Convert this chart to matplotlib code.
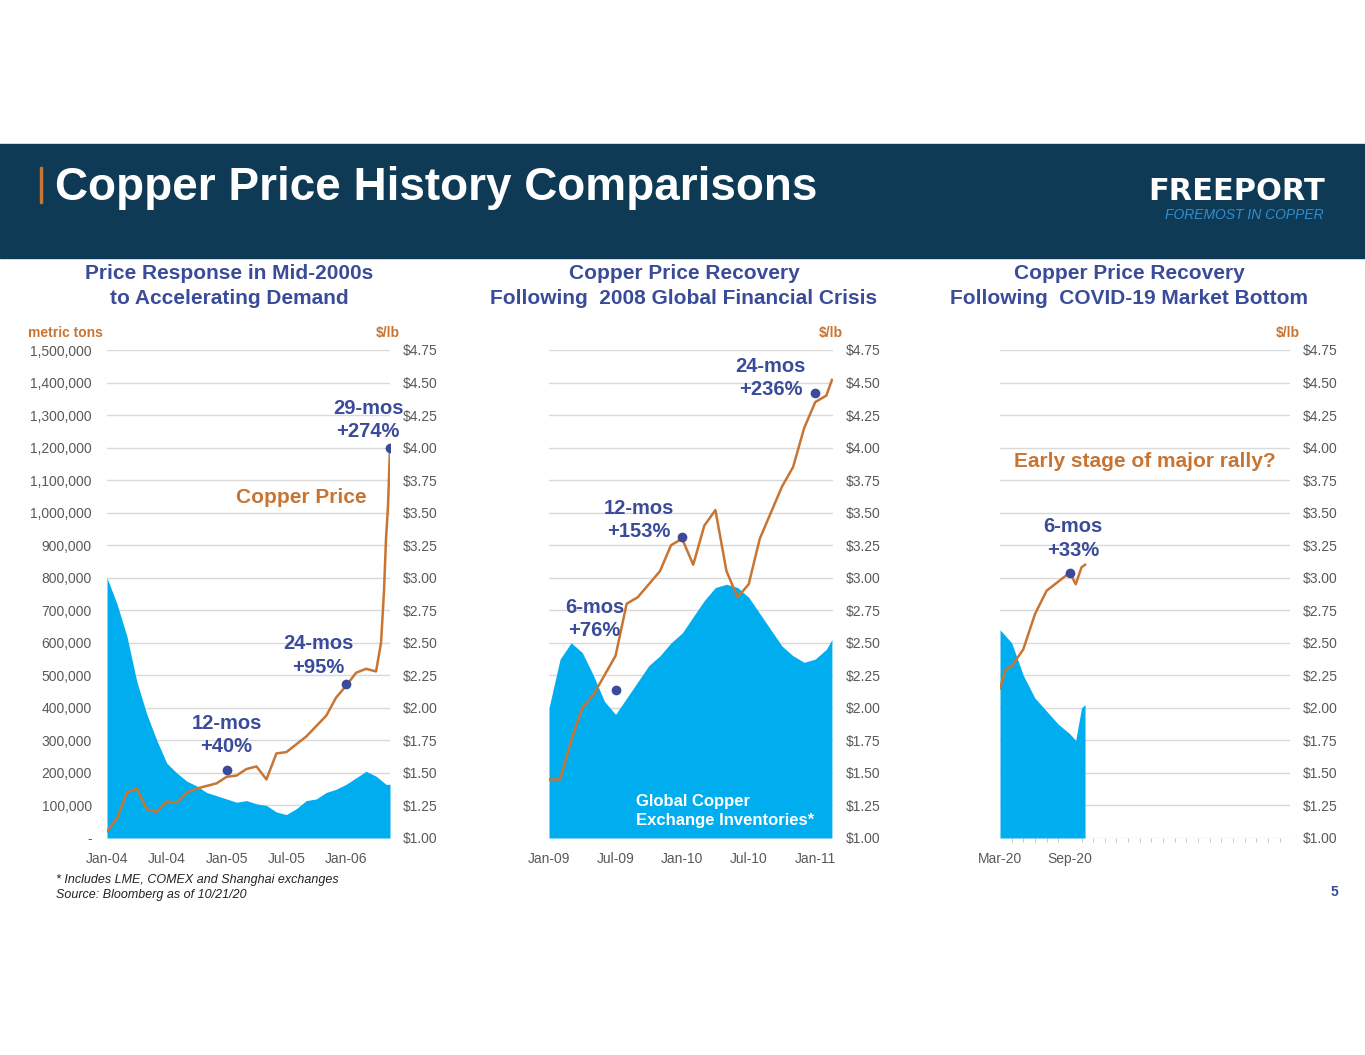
import numpy as np
import matplotlib.pyplot as plt
from matplotlib.patches import Rectangle

plt.rcParams['font.family'] = ['Liberation Sans', 'DejaVu Sans']

# ---- data (months from start of each window) ----
# panel 1: Jan-04 .. May-06
p1_m = [0, 1, 2, 3, 4, 5, 6, 7, 8, 9, 10, 11, 12, 13, 14, 15, 16, 17, 18, 19, 20, 21, 22, 23, 24, 25, 26, 27, 27.5, 27.8, 28.0, 28.2, 28.4]
p1_price = [1.05, 1.15, 1.35, 1.38, 1.22, 1.20, 1.28, 1.27, 1.35, 1.38, 1.40, 1.42, 1.47, 1.48, 1.53, 1.55, 1.45, 1.65, 1.66, 1.72, 1.78, 1.86, 1.94, 2.08, 2.17, 2.27, 2.30, 2.28, 2.50, 2.90, 3.30, 3.55, 4.00]
p1_inv_m = [0, 1, 2, 3, 4, 5, 6, 7, 8, 9, 10, 11, 12, 13, 14, 15, 16, 17, 18, 19, 20, 21, 22, 23, 24, 25, 26, 27, 28, 28.4]
p1_inv = [800e3, 720e3, 620e3, 480e3, 380e3, 300e3, 230e3, 200e3, 175e3, 160e3, 140e3, 130e3, 120e3, 110e3, 115e3, 105e3, 100e3, 80e3, 72e3, 90e3, 115e3, 120e3, 140e3, 150e3, 165e3, 185e3, 205e3, 190e3, 165e3, 165e3]

# panel 2: Jan-09 .. Feb-11
p2_m = list(range(26)) + [25.5]
p2_price = [1.45, 1.45, 1.75, 2.00, 2.10, 2.25, 2.40, 2.80, 2.85, 2.95, 3.05, 3.25, 3.30, 3.10, 3.40, 3.52, 3.05, 2.85, 2.95, 3.30, 3.50, 3.70, 3.85, 4.15, 4.35, 4.40, 4.52]
p2_inv_m = list(range(26)) + [25.5]
p2_inv = [400e3, 550e3, 600e3, 570e3, 500e3, 420e3, 380e3, 430e3, 480e3, 530e3, 560e3, 600e3, 630e3, 680e3, 730e3, 770e3, 780e3, 770e3, 740e3, 690e3, 640e3, 590e3, 560e3, 540e3, 550e3, 580e3, 610e3]

# panel 3: Mar-20 .. Oct-20
p3_m = [0, 0.5, 1, 2, 3, 4, 5, 6, 6.5, 7, 7.3]
p3_price = [2.15, 2.30, 2.32, 2.45, 2.72, 2.90, 2.97, 3.04, 2.95, 3.08, 3.10]
p3_inv_m = [0, 1, 2, 3, 4, 5, 6, 6.5, 7, 7.3]
p3_inv = [640e3, 600e3, 500e3, 430e3, 390e3, 350e3, 320e3, 300e3, 400e3, 410e3]

left_ticks = np.arange(0, 1500001, 100000)
left_labels = ['-'] + ['{:,}'.format(int(v)) for v in left_ticks[1:]]
right_ticks = np.arange(1.0, 4.76, 0.25)
right_labels = ['${:.2f}'.format(v) for v in right_ticks]

titles = ['Price Response in Mid-2000s\nto Accelerating Demand',
          'Copper Price Recovery\nFollowing  2008 Global Financial Crisis',
          'Copper Price Recovery\nFollowing  COVID-19 Market Bottom']
xtick_pos = [[0, 6, 12, 18, 24], [0, 6, 12, 18, 24], [0, 6]]
xtick_lab = [['Jan-04', 'Jul-04', 'Jan-05', 'Jul-05', 'Jan-06'],
             ['Jan-09', 'Jul-09', 'Jan-10', 'Jul-10', 'Jan-11'],
             ['Mar-20', 'Sep-20']]
xlims = [(0, 28.4), (0, 25.6), (0, 24.9)]
panels = [(p1_m, p1_price, p1_inv_m, p1_inv), (p2_m, p2_price, p2_inv_m, p2_inv), (p3_m, p3_price, p3_inv_m, p3_inv)]
# (month, price, text, text dx, text dy in price units)
notes = [[(12, 1.52, '12-mos\n+40%', 0, 0.11), (24, 2.18, '24-mos\n+95%', -2.8, 0.06), (28.4, 4.00, '29-mos\n+274%', -2.2, 0.05)],
         [(6, 2.14, '6-mos\n+76%', -1.9, 0.38), (12, 3.31, '12-mos\n+153%', -3.9, -0.03), (24, 4.42, '24-mos\n+236%', -4.0, -0.05)],
         [(6, 3.04, '6-mos\n+33%', 0.25, 0.10)]]

W, H = 1365, 1055
fig = plt.figure(figsize=(W / 100, H / 100), dpi=100)
fig.patches.append(Rectangle((0, 1 - 258 / H), 1, 114 / H, transform=fig.transFigure, color='#0e3a55', zorder=0))
fig.patches.append(Rectangle((40 / W, 1 - 203 / H), 1.5 / W, 36 / H, transform=fig.transFigure, color='#c87533', zorder=1))
fig.text(55 / W, 1 - 188 / H, 'Copper Price History Comparisons', color='white', fontsize=33, fontweight='bold', va='center')
fig.text(1325 / W, 1 - 192 / H, 'FREEPORT', color='white', fontsize=22, fontweight='bold', ha='right', va='center', family='DejaVu Sans')
fig.text(1324 / W, 1 - 215 / H, 'FOREMOST IN COPPER', color='#2f8fd0', fontsize=10, style='italic', ha='right', va='center')

lefts = [107, 549, 1000]
rights = [390, 833, 1290]
title_x = [229, 684, 1129]
blue = '#3a4c99'
orange = '#c87533'
gray = '#595959'
for i in range(3):
    x0, x1 = lefts[i], rights[i]
    ax = fig.add_axes([x0 / W, 1 - 838 / H, (x1 - x0) / W, 488 / H])
    m, price, im, inv = panels[i]
    ax.fill_between(im, inv, 0, color='#00aeef', lw=0, zorder=2)
    ax.set_ylim(0, 1.5e6)
    ax.set_xlim(*xlims[i])
    ax.set_yticks(left_ticks)
    ax.grid(axis='y', color='#d9d9d9', lw=1, zorder=0)
    if i == 0:
        ax.set_yticklabels(left_labels)
    else:
        ax.set_yticklabels([])
    ax.tick_params(axis='y', length=0, labelsize=10, labelcolor=gray, pad=11)
    ax.set_xticks(xtick_pos[i])
    ax.set_xticklabels(xtick_lab[i])
    ax.tick_params(axis='x', length=0, labelsize=10, labelcolor=gray, pad=10)
    for s in ax.spines.values():
        s.set_visible(False)
    ax2 = ax.twinx()
    ax2.plot(m, price, color=orange, lw=1.8, zorder=3)
    ax2.set_ylim(1.0, 4.75)
    ax2.set_yticks(right_ticks)
    ax2.set_yticklabels(right_labels)
    ax2.tick_params(axis='y', length=0, labelsize=10, labelcolor=gray, pad=9)
    for s in ax2.spines.values():
        s.set_visible(False)
    for (nm, npv, txt, dx, dy) in notes[i]:
        ax2.plot(nm, npv, 'o', color=blue, ms=6, zorder=4)
        ax2.text(nm + dx, npv + dy, txt, color=blue, fontsize=14.5, fontweight='bold', ha='center', va='bottom', linespacing=1.3)
    ax2.text(1.035, 1.02, '$/lb', transform=ax2.transAxes, color=orange, fontsize=10, fontweight='bold', ha='right', va='bottom')
    fig.text(title_x[i] / W, 1 - 286 / H, titles[i], color=blue, fontsize=15, fontweight='bold', ha='center', va='center', linespacing=1.35)
    if i == 0:
        ax.text(-0.28, 1.02, 'metric tons', transform=ax.transAxes, color=orange, fontsize=10, fontweight='bold', ha='left', va='bottom')
        ax2.text(19.5, 3.62, 'Copper Price', color=orange, fontsize=15, fontweight='bold', ha='center', va='center')
    if i == 1:
        ax2.text(7.8, 1.08, 'Global Copper\nExchange Inventories*', color='white', fontsize=12, fontweight='bold', ha='left', va='bottom', linespacing=1.3)
    if i == 2:
        ax2.text(12.4, 3.89, 'Early stage of major rally?', color=orange, fontsize=15, fontweight='bold', ha='center', va='center')
        ax.set_xticks(np.arange(0, 25, 1), minor=True)
        ax.tick_params(axis='x', which='minor', length=3, color='#bfbfbf')

fig.text(56 / W, 1 - 880 / H, '* Includes LME, COMEX and Shanghai exchanges', fontsize=9, style='italic', color='#222222', va='center')
fig.text(56 / W, 1 - 895 / H, 'Source: Bloomberg as of 10/21/20', fontsize=9, style='italic', color='#222222', va='center')
fig.text(1338 / W, 1 - 892 / H, '5', fontsize=10, fontweight='bold', color=blue, ha='right', va='center')

fig.savefig('out.png', dpi=100)
